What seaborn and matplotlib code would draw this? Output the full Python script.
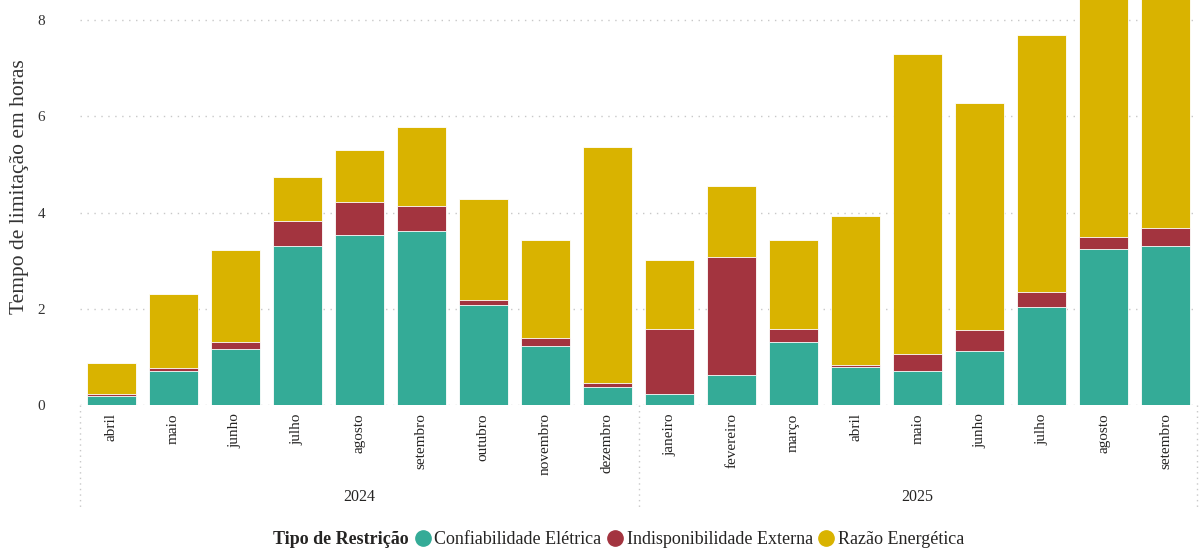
import matplotlib
matplotlib.use("Agg")
import matplotlib.pyplot as plt
import matplotlib.transforms as mtransforms
from matplotlib.lines import Line2D
import seaborn as sns
import pandas as pd
import numpy as np

# ---- data ----
months = ["abril", "maio", "junho", "julho", "agosto", "setembro", "outubro",
          "novembro", "dezembro", "janeiro", "fevereiro", "março", "abril",
          "maio", "junho", "julho", "agosto", "setembro"]
years = ["2024"] * 9 + ["2025"] * 9
confiabilidade = [0.19, 0.71, 1.16, 3.30, 3.53, 3.61, 2.07, 1.23, 0.37,
                  0.22, 0.63, 1.31, 0.78, 0.70, 1.13, 2.04, 3.25, 3.30]
indisponibilidade = [0.03, 0.05, 0.14, 0.53, 0.68, 0.52, 0.11, 0.16, 0.08,
                     1.36, 2.44, 0.27, 0.05, 0.36, 0.42, 0.31, 0.24, 0.38]
razao = [0.65, 1.55, 1.93, 0.92, 1.09, 1.66, 2.10, 2.04, 4.92,
         1.43, 1.48, 1.86, 3.09, 6.24, 4.72, 5.34, 5.90, 5.90]
series_names = ["Confiabilidade Elétrica", "Indisponibilidade Externa", "Razão Energética"]
colors = ["#34AB97", "#A3343F", "#D9B300"]
legend_title = "Tipo de Restrição"
ylabel = "Tempo de limitação em horas"

# ---- build table ----
keys = [f"{y}-{i:02d}" for i, y in enumerate(years)]
df = pd.DataFrame({"key": keys, "month": months, "year": years,
                   "c": confiabilidade, "i": indisponibilidade, "r": razao})
df["cum1"] = df["c"]
df["cum2"] = df["c"] + df["i"]
df["cum3"] = df["c"] + df["i"] + df["r"]

sns.set_theme(style="white")
plt.rcParams["font.family"] = ["Liberation Serif", "DejaVu Serif"]

fig = plt.figure(figsize=(12.03, 5.51), dpi=100)
ax = fig.add_axes([80 / 1203, 1 - 405 / 551, (1197 - 80) / 1203, 405 / 551])

for col, color in zip(["cum3", "cum2", "cum1"], colors[::-1]):
    sns.barplot(data=df, x="key", y=col, order=keys, color=color, ax=ax,
                width=0.79, edgecolor="white", linewidth=0.6, saturation=1)

ax.set_ylim(0, 405 / 48.1)
ax.set_xlim(-0.5, len(keys) - 0.5)
ax.set_yticks([0, 2, 4, 6, 8])
ax.tick_params(axis="y", labelsize=11, colors="#333333", length=0, pad=25)
ax.set_xticks(range(len(keys)))
ax.set_xticklabels(months, rotation=90, fontsize=11, color="#252423")
ax.tick_params(axis="x", length=0, pad=6)
ax.set_xlabel("")
ax.set_ylabel(ylabel, fontsize=15.5, color="#333333")
ax.yaxis.set_label_coords(-0.046, 0.538)
for s in ax.spines.values():
    s.set_visible(False)
ax.yaxis.grid(True, linestyle=(0, (1, 4)), color="#C8C8C8", linewidth=1)
ax.set_axisbelow(True)

# year groups
trans = mtransforms.blended_transform_factory(ax.transData, ax.transAxes)
for xsep in [-0.5, 8.5, 17.5]:
    ax.plot([xsep, xsep], [0, -0.26], transform=trans, clip_on=False,
            linestyle=(0, (1, 3)), color="#C8C8C8", linewidth=1)
for yr, xc in [("2024", 4.0), ("2025", 13.0)]:
    ax.text(xc, -0.227, yr, transform=trans, ha="center", va="center",
            fontsize=11.5, color="#252423")

# legend (title as first, handle-less entry so baselines align)
handles = [Line2D([0], [0], linestyle="", marker="")]
handles += [Line2D([0], [0], marker="o", linestyle="", markersize=11,
                   markerfacecolor=c, markeredgecolor=c) for c in colors]
labels = [legend_title] + series_names
leg = fig.legend(handles, labels, loc="center",
                 bbox_to_anchor=(609 / 1203, 1 - 540 / 551), ncol=4,
                 frameon=False, fontsize=13, handlelength=0.9,
                 handletextpad=0.2, columnspacing=0.3, borderaxespad=0)
texts = leg.get_texts()
texts[0].set_fontweight("bold")
for t in texts:
    t.set_color("#252423")

fig.savefig("out.png", dpi=100)
